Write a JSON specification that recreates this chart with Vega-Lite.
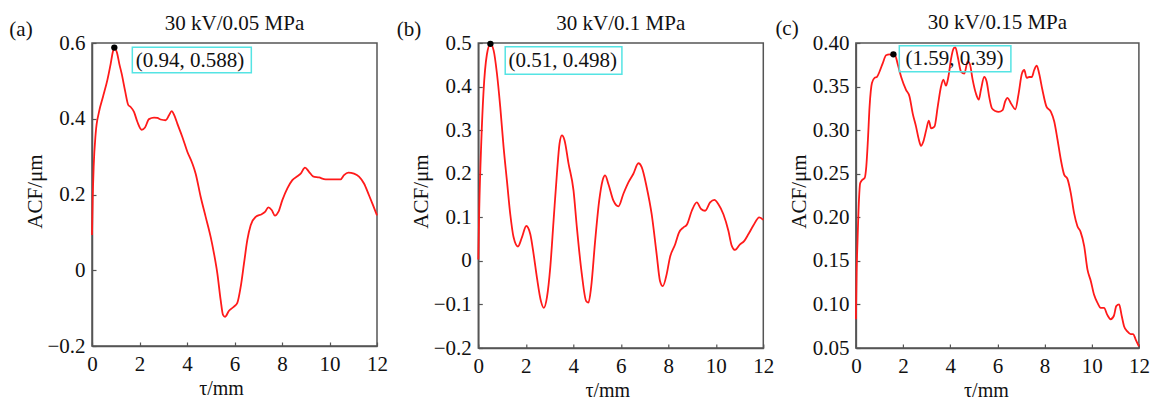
{
  "$schema": "https://vega.github.io/schema/vega-lite/v6.json",
  "autosize": {"type": "pad"},
  "padding": {"left": 8, "top": 11, "right": 5, "bottom": 5},
  "background": "white",
  "config": {
    "font": "Liberation Serif",
    "view": {"stroke": "#555555", "strokeWidth": 1.5},
    "axis": {
      "labelFont": "Liberation Serif", "labelFontSize": 21, "labelColor": "#111111",
      "titleFont": "Liberation Serif", "titleFontSize": 21, "titleFontWeight": "normal", "titleColor": "#111111",
      "domainColor": "#555555", "domainWidth": 1.5, "tickColor": "#555555", "tickSize": -4, "tickWidth": 1.2,
      "grid": false, "labelFlush": false, "labelOverlap": false
    },
    "axisX": {"labelPadding": 11, "titleX": 129, "titleY": 48, "titleBaseline": "alphabetic", "titleFontSize": 20},
    "axisY": {"labelPadding": 11, "titleX": -50.5, "titleY": 148, "titleBaseline": "alphabetic"},
    "title": {"font": "Liberation Serif", "fontSize": 21, "fontWeight": "normal", "color": "#111111", "offset": -15, "baseline": "alphabetic", "frame": "group"}
  },
  "datasets": {
    "a": [
      {"tau": 0, "acf": 0.093}, {"tau": 0.028, "acf": 0.185}, {"tau": 0.07, "acf": 0.273}, {"tau": 0.154, "acf": 0.361},
      {"tau": 0.295, "acf": 0.418}, {"tau": 0.463, "acf": 0.458}, {"tau": 0.646, "acf": 0.502}, {"tau": 0.786, "acf": 0.545},
      {"tau": 0.884, "acf": 0.578}, {"tau": 0.94, "acf": 0.588}, {"tau": 1.05, "acf": 0.575}, {"tau": 1.15, "acf": 0.545},
      {"tau": 1.249, "acf": 0.519}, {"tau": 1.389, "acf": 0.475}, {"tau": 1.53, "acf": 0.436}, {"tau": 1.628, "acf": 0.431},
      {"tau": 1.768, "acf": 0.418}, {"tau": 1.909, "acf": 0.392}, {"tau": 2.091, "acf": 0.371}, {"tau": 2.232, "acf": 0.377},
      {"tau": 2.4, "acf": 0.399}, {"tau": 2.611, "acf": 0.403}, {"tau": 2.751, "acf": 0.402}, {"tau": 2.891, "acf": 0.398},
      {"tau": 3.102, "acf": 0.396}, {"tau": 3.242, "acf": 0.409}, {"tau": 3.354, "acf": 0.42}, {"tau": 3.467, "acf": 0.409},
      {"tau": 3.593, "acf": 0.387}, {"tau": 3.804, "acf": 0.352}, {"tau": 4.014, "acf": 0.313}, {"tau": 4.225, "acf": 0.282},
      {"tau": 4.365, "acf": 0.255}, {"tau": 4.575, "acf": 0.194}, {"tau": 4.786, "acf": 0.141}, {"tau": 4.996, "acf": 0.088},
      {"tau": 5.137, "acf": 0.044}, {"tau": 5.277, "acf": -0.008}, {"tau": 5.418, "acf": -0.079}, {"tau": 5.516, "acf": -0.118},
      {"tau": 5.6, "acf": -0.123}, {"tau": 5.768, "acf": -0.107}, {"tau": 5.979, "acf": -0.096}, {"tau": 6.119, "acf": -0.086},
      {"tau": 6.26, "acf": -0.044}, {"tau": 6.4, "acf": 0.018}, {"tau": 6.54, "acf": 0.08}, {"tau": 6.681, "acf": 0.119},
      {"tau": 6.891, "acf": 0.141}, {"tau": 7.144, "acf": 0.148}, {"tau": 7.284, "acf": 0.154}, {"tau": 7.425, "acf": 0.166},
      {"tau": 7.565, "acf": 0.159}, {"tau": 7.705, "acf": 0.144}, {"tau": 7.846, "acf": 0.154}, {"tau": 8.014, "acf": 0.185},
      {"tau": 8.225, "acf": 0.216}, {"tau": 8.435, "acf": 0.238}, {"tau": 8.646, "acf": 0.248}, {"tau": 8.786, "acf": 0.255},
      {"tau": 8.968, "acf": 0.271}, {"tau": 9.137, "acf": 0.26}, {"tau": 9.305, "acf": 0.248}, {"tau": 9.558, "acf": 0.245},
      {"tau": 9.839, "acf": 0.24}, {"tau": 10.119, "acf": 0.24}, {"tau": 10.47, "acf": 0.24}, {"tau": 10.611, "acf": 0.251},
      {"tau": 10.793, "acf": 0.258}, {"tau": 11.032, "acf": 0.255}, {"tau": 11.242, "acf": 0.247}, {"tau": 11.453, "acf": 0.229},
      {"tau": 11.663, "acf": 0.198}, {"tau": 11.832, "acf": 0.172}, {"tau": 12, "acf": 0.145}
    ],
    "b": [
      {"tau": 0, "acf": 0.003}, {"tau": 0.04, "acf": 0.119}, {"tau": 0.126, "acf": 0.273}, {"tau": 0.22, "acf": 0.388},
      {"tau": 0.36, "acf": 0.473}, {"tau": 0.51, "acf": 0.498}, {"tau": 0.645, "acf": 0.483}, {"tau": 0.785, "acf": 0.43},
      {"tau": 0.925, "acf": 0.353}, {"tau": 1.065, "acf": 0.261}, {"tau": 1.205, "acf": 0.184}, {"tau": 1.346, "acf": 0.107},
      {"tau": 1.486, "acf": 0.054}, {"tau": 1.668, "acf": 0.033}, {"tau": 1.837, "acf": 0.054}, {"tau": 2.02, "acf": 0.08},
      {"tau": 2.19, "acf": 0.061}, {"tau": 2.33, "acf": 0.015}, {"tau": 2.47, "acf": -0.039}, {"tau": 2.64, "acf": -0.093},
      {"tau": 2.76, "acf": -0.108}, {"tau": 2.89, "acf": -0.084}, {"tau": 3.03, "acf": -0.015}, {"tau": 3.17, "acf": 0.093},
      {"tau": 3.31, "acf": 0.2}, {"tau": 3.42, "acf": 0.269}, {"tau": 3.52, "acf": 0.288}, {"tau": 3.63, "acf": 0.277},
      {"tau": 3.8, "acf": 0.223}, {"tau": 4.01, "acf": 0.161}, {"tau": 4.15, "acf": 0.077}, {"tau": 4.36, "acf": -0.031},
      {"tau": 4.54, "acf": -0.092}, {"tau": 4.64, "acf": -0.096}, {"tau": 4.75, "acf": -0.061}, {"tau": 4.92, "acf": 0.046},
      {"tau": 5.09, "acf": 0.138}, {"tau": 5.23, "acf": 0.184}, {"tau": 5.34, "acf": 0.196}, {"tau": 5.48, "acf": 0.176},
      {"tau": 5.69, "acf": 0.138}, {"tau": 5.9, "acf": 0.125}, {"tau": 6.11, "acf": 0.154}, {"tau": 6.32, "acf": 0.18},
      {"tau": 6.53, "acf": 0.2}, {"tau": 6.74, "acf": 0.224}, {"tau": 6.88, "acf": 0.215}, {"tau": 7.09, "acf": 0.169},
      {"tau": 7.3, "acf": 0.107}, {"tau": 7.51, "acf": 0.015}, {"tau": 7.65, "acf": -0.046}, {"tau": 7.77, "acf": -0.058},
      {"tau": 7.93, "acf": -0.031}, {"tau": 8.07, "acf": 0.008}, {"tau": 8.29, "acf": 0.038}, {"tau": 8.45, "acf": 0.065},
      {"tau": 8.64, "acf": 0.077}, {"tau": 8.78, "acf": 0.083}, {"tau": 8.99, "acf": 0.115}, {"tau": 9.2, "acf": 0.134},
      {"tau": 9.38, "acf": 0.119}, {"tau": 9.55, "acf": 0.115}, {"tau": 9.76, "acf": 0.134}, {"tau": 9.94, "acf": 0.14},
      {"tau": 10.11, "acf": 0.13}, {"tau": 10.32, "acf": 0.107}, {"tau": 10.53, "acf": 0.069}, {"tau": 10.67, "acf": 0.035},
      {"tau": 10.81, "acf": 0.025}, {"tau": 11.02, "acf": 0.038}, {"tau": 11.2, "acf": 0.046}, {"tau": 11.37, "acf": 0.061},
      {"tau": 11.58, "acf": 0.081}, {"tau": 11.83, "acf": 0.1}, {"tau": 12, "acf": 0.094}
    ],
    "c": [
      {"tau": 0, "acf": 0.083}, {"tau": 0.03, "acf": 0.136}, {"tau": 0.07, "acf": 0.174}, {"tau": 0.13, "acf": 0.22},
      {"tau": 0.18, "acf": 0.239}, {"tau": 0.27, "acf": 0.243}, {"tau": 0.37, "acf": 0.245}, {"tau": 0.44, "acf": 0.258},
      {"tau": 0.51, "acf": 0.289}, {"tau": 0.58, "acf": 0.327}, {"tau": 0.68, "acf": 0.354}, {"tau": 0.79, "acf": 0.36},
      {"tau": 0.89, "acf": 0.361}, {"tau": 1.0, "acf": 0.367}, {"tau": 1.14, "acf": 0.377}, {"tau": 1.28, "acf": 0.386},
      {"tau": 1.42, "acf": 0.387}, {"tau": 1.54, "acf": 0.386}, {"tau": 1.64, "acf": 0.387}, {"tau": 1.78, "acf": 0.375},
      {"tau": 1.92, "acf": 0.361}, {"tau": 2.13, "acf": 0.346}, {"tau": 2.27, "acf": 0.339}, {"tau": 2.41, "acf": 0.319},
      {"tau": 2.55, "acf": 0.304}, {"tau": 2.67, "acf": 0.289}, {"tau": 2.76, "acf": 0.282}, {"tau": 2.86, "acf": 0.287},
      {"tau": 2.98, "acf": 0.3}, {"tau": 3.09, "acf": 0.311}, {"tau": 3.19, "acf": 0.302}, {"tau": 3.33, "acf": 0.304},
      {"tau": 3.47, "acf": 0.327}, {"tau": 3.61, "acf": 0.35}, {"tau": 3.71, "acf": 0.358}, {"tau": 3.82, "acf": 0.351},
      {"tau": 3.92, "acf": 0.361}, {"tau": 4.03, "acf": 0.381}, {"tau": 4.15, "acf": 0.394}, {"tau": 4.22, "acf": 0.395},
      {"tau": 4.32, "acf": 0.384}, {"tau": 4.46, "acf": 0.367}, {"tau": 4.6, "acf": 0.365}, {"tau": 4.74, "acf": 0.379},
      {"tau": 4.84, "acf": 0.375}, {"tau": 4.95, "acf": 0.358}, {"tau": 5.09, "acf": 0.342}, {"tau": 5.21, "acf": 0.335},
      {"tau": 5.3, "acf": 0.346}, {"tau": 5.44, "acf": 0.361}, {"tau": 5.54, "acf": 0.356}, {"tau": 5.66, "acf": 0.337},
      {"tau": 5.77, "acf": 0.325}, {"tau": 5.91, "acf": 0.322}, {"tau": 6.05, "acf": 0.321}, {"tau": 6.22, "acf": 0.323},
      {"tau": 6.33, "acf": 0.333}, {"tau": 6.43, "acf": 0.337}, {"tau": 6.57, "acf": 0.331}, {"tau": 6.76, "acf": 0.324},
      {"tau": 6.9, "acf": 0.342}, {"tau": 7.04, "acf": 0.365}, {"tau": 7.14, "acf": 0.369}, {"tau": 7.24, "acf": 0.36},
      {"tau": 7.35, "acf": 0.361}, {"tau": 7.46, "acf": 0.361}, {"tau": 7.56, "acf": 0.369}, {"tau": 7.67, "acf": 0.374},
      {"tau": 7.77, "acf": 0.365}, {"tau": 7.91, "acf": 0.346}, {"tau": 8.08, "acf": 0.327}, {"tau": 8.27, "acf": 0.321},
      {"tau": 8.41, "acf": 0.31}, {"tau": 8.55, "acf": 0.289}, {"tau": 8.69, "acf": 0.266}, {"tau": 8.83, "acf": 0.249},
      {"tau": 8.97, "acf": 0.244}, {"tau": 9.11, "acf": 0.228}, {"tau": 9.25, "acf": 0.205}, {"tau": 9.39, "acf": 0.19},
      {"tau": 9.53, "acf": 0.183}, {"tau": 9.68, "acf": 0.167}, {"tau": 9.82, "acf": 0.14}, {"tau": 9.96, "acf": 0.127},
      {"tau": 10.1, "acf": 0.111}, {"tau": 10.24, "acf": 0.102}, {"tau": 10.38, "acf": 0.096}, {"tau": 10.52, "acf": 0.096},
      {"tau": 10.66, "acf": 0.088}, {"tau": 10.8, "acf": 0.083}, {"tau": 10.94, "acf": 0.087}, {"tau": 11.04, "acf": 0.098},
      {"tau": 11.16, "acf": 0.1}, {"tau": 11.27, "acf": 0.087}, {"tau": 11.37, "acf": 0.075}, {"tau": 11.51, "acf": 0.069},
      {"tau": 11.65, "acf": 0.066}, {"tau": 11.76, "acf": 0.066}, {"tau": 11.86, "acf": 0.06}, {"tau": 12, "acf": 0.052}
    ],
    "pa": [{"tau": 0.94, "acf": 0.588, "label": "(0.94, 0.588)"}],
    "pb": [{"tau": 0.51, "acf": 0.498, "label": "(0.51, 0.498)"}],
    "pc": [{"tau": 1.59, "acf": 0.387, "label": "(1.59, 0.39)"}]
  },
  "hconcat": [
    {
      "width": 285, "height": 303,
      "title": {"text": "30 kV/0.05 MPa"},
      "layer": [
        {
          "data": {"name": "a"},
          "mark": {"type": "line", "color": "#ff1a1a", "strokeWidth": 1.8, "interpolate": "monotone"},
          "encoding": {
            "x": {"field": "tau", "type": "quantitative", "scale": {"domain": [0, 12], "nice": false, "zero": false},
                  "axis": {"title": "τ/mm", "values": [0, 2, 4, 6, 8, 10, 12], "format": "d"}},
            "y": {"field": "acf", "type": "quantitative", "scale": {"domain": [-0.2, 0.6], "nice": false, "zero": false},
                  "axis": {"title": "ACF/μm", "values": [-0.2, 0, 0.2, 0.4, 0.6], "format": "~g"}}
          }
        },
        {
          "data": {"name": "pa"},
          "mark": {"type": "rect", "filled": false, "stroke": "#55e4e4", "strokeWidth": 1.5, "xOffset": 18, "x2Offset": 137, "yOffset": -0.2, "y2Offset": 25.2},
          "encoding": {
            "x": {"field": "tau", "type": "quantitative", "scale": {"domain": [0, 12]}}, "x2": {"field": "tau"},
            "y": {"field": "acf", "type": "quantitative", "scale": {"domain": [-0.2, 0.6]}}, "y2": {"field": "acf"}
          }
        },
        {
          "data": {"name": "pa"},
          "mark": {"type": "text", "align": "left", "baseline": "middle", "dx": 21.5, "dy": 13, "fontSize": 21, "font": "Liberation Serif", "color": "#111111"},
          "encoding": {
            "x": {"field": "tau", "type": "quantitative", "scale": {"domain": [0, 12]}},
            "y": {"field": "acf", "type": "quantitative", "scale": {"domain": [-0.2, 0.6]}},
            "text": {"field": "label"}
          }
        },
        {
          "data": {"name": "pa"},
          "mark": {"type": "point", "filled": true, "color": "black", "size": 40, "opacity": 1},
          "encoding": {
            "x": {"field": "tau", "type": "quantitative", "scale": {"domain": [0, 12]}},
            "y": {"field": "acf", "type": "quantitative", "scale": {"domain": [-0.2, 0.6]}}
          }
        },
        {
          "data": {"values": [{"panel": "(a)"}]},
          "mark": {"type": "text", "align": "center", "baseline": "middle", "fontSize": 21, "font": "Liberation Serif", "color": "#111111"},
          "encoding": {
            "x": {"datum": -2.99, "type": "quantitative", "scale": {"domain": [0, 12]}},
            "y": {"datum": 0.634, "type": "quantitative", "scale": {"domain": [-0.2, 0.6]}},
            "text": {"field": "panel"}
          }
        }
      ]
    },
    {
      "hconcat": [
        {
          "width": 285, "height": 305,
          "title": {"text": "30 kV/0.1 MPa"},
          "layer": [
            {
              "data": {"name": "b"},
              "mark": {"type": "line", "color": "#ff1a1a", "strokeWidth": 1.8, "interpolate": "monotone"},
              "encoding": {
                "x": {"field": "tau", "type": "quantitative", "scale": {"domain": [0, 12], "nice": false, "zero": false},
                      "axis": {"title": "τ/mm", "values": [0, 2, 4, 6, 8, 10, 12], "format": "d"}},
                "y": {"field": "acf", "type": "quantitative", "scale": {"domain": [-0.2, 0.5], "nice": false, "zero": false},
                      "axis": {"title": "ACF/μm", "values": [-0.2, -0.1, 0, 0.1, 0.2, 0.3, 0.4, 0.5], "format": "~g"}}
              }
            },
            {
              "data": {"name": "pb"},
              "mark": {"type": "rect", "filled": false, "stroke": "#55e4e4", "strokeWidth": 1.5, "xOffset": 14.8, "x2Offset": 131.5, "yOffset": 3, "y2Offset": 30.4},
              "encoding": {
                "x": {"field": "tau", "type": "quantitative", "scale": {"domain": [0, 12]}}, "x2": {"field": "tau"},
                "y": {"field": "acf", "type": "quantitative", "scale": {"domain": [-0.2, 0.5]}}, "y2": {"field": "acf"}
              }
            },
            {
              "data": {"name": "pb"},
              "mark": {"type": "text", "align": "left", "baseline": "middle", "dx": 18, "dy": 17, "fontSize": 21, "font": "Liberation Serif", "color": "#111111"},
              "encoding": {
                "x": {"field": "tau", "type": "quantitative", "scale": {"domain": [0, 12]}},
                "y": {"field": "acf", "type": "quantitative", "scale": {"domain": [-0.2, 0.5]}},
                "text": {"field": "label"}
              }
            },
            {
              "data": {"name": "pb"},
              "mark": {"type": "point", "filled": true, "color": "black", "size": 40, "opacity": 1},
              "encoding": {
                "x": {"field": "tau", "type": "quantitative", "scale": {"domain": [0, 12]}},
                "y": {"field": "acf", "type": "quantitative", "scale": {"domain": [-0.2, 0.5]}}
              }
            },
            {
              "data": {"values": [{"panel": "(b)"}]},
              "mark": {"type": "text", "align": "center", "baseline": "middle", "fontSize": 21, "font": "Liberation Serif", "color": "#111111"},
              "encoding": {
                "x": {"datum": -2.92, "type": "quantitative", "scale": {"domain": [0, 12]}},
                "y": {"datum": 0.529, "type": "quantitative", "scale": {"domain": [-0.2, 0.5]}},
                "text": {"field": "panel"}
              }
            }
          ]
        },
        {
          "width": 283, "height": 305,
          "title": {"text": "30 kV/0.15 MPa"},
          "layer": [
            {
              "data": {"name": "c"},
              "mark": {"type": "line", "color": "#ff1a1a", "strokeWidth": 1.8, "interpolate": "monotone"},
              "encoding": {
                "x": {"field": "tau", "type": "quantitative", "scale": {"domain": [0, 12], "nice": false, "zero": false},
                      "axis": {"title": "τ/mm", "values": [0, 2, 4, 6, 8, 10, 12], "format": "d", "titleX": 130}},
                "y": {"field": "acf", "type": "quantitative", "scale": {"domain": [0.05, 0.4], "nice": false, "zero": false},
                      "axis": {"title": "ACF/μm", "values": [0.05, 0.1, 0.15, 0.2, 0.25, 0.3, 0.35, 0.4], "format": ".2f"}}
              }
            },
            {
              "data": {"name": "pc"},
              "mark": {"type": "rect", "filled": false, "stroke": "#55e4e4", "strokeWidth": 1.5, "xOffset": 5.9, "x2Offset": 117.5, "yOffset": -8.6, "y2Offset": 17.4},
              "encoding": {
                "x": {"field": "tau", "type": "quantitative", "scale": {"domain": [0, 12]}}, "x2": {"field": "tau"},
                "y": {"field": "acf", "type": "quantitative", "scale": {"domain": [0.05, 0.4]}}, "y2": {"field": "acf"}
              }
            },
            {
              "data": {"name": "pc"},
              "mark": {"type": "text", "align": "left", "baseline": "middle", "dx": 12, "dy": 4.4, "fontSize": 21, "font": "Liberation Serif", "color": "#111111"},
              "encoding": {
                "x": {"field": "tau", "type": "quantitative", "scale": {"domain": [0, 12]}},
                "y": {"field": "acf", "type": "quantitative", "scale": {"domain": [0.05, 0.4]}},
                "text": {"field": "label"}
              }
            },
            {
              "data": {"name": "pc"},
              "mark": {"type": "point", "filled": true, "color": "black", "size": 40, "opacity": 1},
              "encoding": {
                "x": {"field": "tau", "type": "quantitative", "scale": {"domain": [0, 12]}},
                "y": {"field": "acf", "type": "quantitative", "scale": {"domain": [0.05, 0.4]}}
              }
            },
            {
              "data": {"values": [{"panel": "(c)"}]},
              "mark": {"type": "text", "align": "center", "baseline": "middle", "fontSize": 21, "font": "Liberation Serif", "color": "#111111"},
              "encoding": {
                "x": {"datum": -2.92, "type": "quantitative", "scale": {"domain": [0, 12]}},
                "y": {"datum": 0.4155, "type": "quantitative", "scale": {"domain": [0.05, 0.4]}},
                "text": {"field": "panel"}
              }
            }
          ]
        }
      ],
      "spacing": 92.6,
      "bounds": "flush"
    }
  ],
  "spacing": 101.3,
  "bounds": "flush"
}
